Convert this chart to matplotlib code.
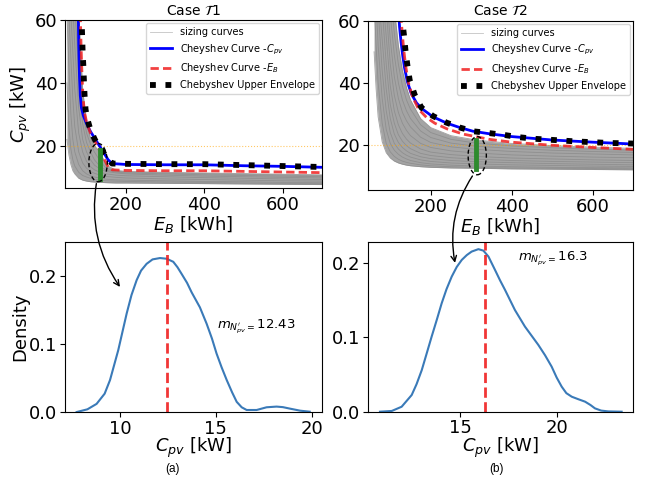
import matplotlib
matplotlib.use('Agg')
import matplotlib.pyplot as plt
from matplotlib.patches import Ellipse, ConnectionPatch

# ---- case T1 : sizing curves (E_B grid, C_pv per curve) ----
eb1 = [50, 55, 60, 65, 70, 80, 90, 100, 110, 120, 135, 150, 175, 200, 300, 400, 500, 600, 700]
curves1 = [
    [22, 17, 14, 12, 11, 9.6, 9.0, 8.7, 8.5, 8.4, 8.3, 8.2, 8.1, 8.1, 8.0, 7.9, 7.8, 7.7, 7.6],
    [40, 26, 19, 15.5, 13.5, 11.5, 10.5, 10.0, 9.6, 9.3, 9.0, 8.8, 8.7, 8.6, 8.4, 8.3, 8.1, 8.0, 7.9],
    [62, 45, 30, 22, 18, 14, 12, 11, 10.4, 10, 9.6, 9.3, 9.1, 9.0, 8.8, 8.6, 8.5, 8.3, 8.2],
    [70, 62, 48, 35, 26, 18, 14.5, 12.8, 11.8, 11.2, 10.6, 10.2, 9.9, 9.7, 9.4, 9.2, 9.0, 8.8, 8.7],
    [70, 70, 62, 50, 38, 24, 18, 15, 13.3, 12.3, 11.5, 11, 10.6, 10.4, 10.1, 9.8, 9.6, 9.4, 9.2],
    [70, 70, 70, 64, 52, 32, 22, 18, 15.5, 13.8, 12.5, 11.8, 11.3, 11, 10.6, 10.3, 10.1, 9.9, 9.7],
    [70, 70, 70, 70, 65, 42, 27, 21, 18, 15.5, 13.3, 12.2, 11.6, 11.3, 11.0, 10.7, 10.5, 10.3, 10.1],
    [70, 70, 70, 70, 70, 55, 32, 24, 20.5, 18, 15, 12.8, 11.9, 11.6, 11.3, 11.1, 10.9, 10.7, 10.5],
    [70, 70, 70, 70, 70, 62, 38, 27, 22.5, 20, 17.8, 13.8, 12.2, 11.8, 11.5, 11.3, 11.1, 10.9, 10.7],
]
blue1_x = [79, 80, 82, 84, 87, 92, 100, 110, 125, 140, 155, 165, 200, 300, 400, 500, 600, 700]
blue1_y = [62, 52, 42, 36, 32, 29.5, 27, 24.5, 21.5, 18.5, 15.5, 14.3, 14.0, 13.9, 13.9, 13.6, 13.4, 13.1]
red1_x = [84, 86, 88, 90, 92, 95, 100, 110, 125, 140, 155, 165, 200, 300, 400, 500, 600, 700]
red1_y = [62, 52, 44, 38, 34, 30.5, 27.5, 24, 20.5, 17, 13.2, 12.3, 12.1, 12.0, 12.0, 11.8, 11.6, 11.4]
env1_x = [87, 88.5, 90, 92, 93.5, 95, 97.5, 102, 110, 121.6, 133.6, 147, 165, 200, 300, 400, 500, 600, 700]
env1_y = [62, 56, 50, 45, 40, 36, 31.5, 28.5, 25, 21.8, 19.7, 17.0, 14.3, 14.2, 14.1, 14.1, 13.8, 13.5, 13.2]

# ---- case T2 ----
eb2 = [60, 65, 70, 80, 90, 100, 110, 120, 130, 140, 150, 175, 200, 250, 312, 400, 500, 600, 700]
curves2 = [
    [50, 38, 29, 21, 17.5, 15.8, 14.8, 14.2, 13.8, 13.5, 13.3, 13.0, 12.8, 12.6, 12.5, 12.3, 12.2, 12.1, 12.0],
    [66, 52, 40, 27, 20.5, 17.8, 16.3, 15.4, 14.8, 14.4, 14.1, 13.6, 13.3, 13.0, 12.8, 12.6, 12.5, 12.4, 12.3],
    [70, 66, 52, 35, 25, 20.5, 18.3, 17, 16.1, 15.5, 15.0, 14.3, 13.9, 13.5, 13.2, 13.0, 12.8, 12.7, 12.6],
    [70, 70, 64, 44, 31, 24, 20.5, 18.7, 17.5, 16.7, 16.1, 15.2, 14.7, 14.2, 13.9, 13.6, 13.4, 13.2, 13.1],
    [70, 70, 70, 54, 38, 28.5, 23.5, 20.8, 19.2, 18.1, 17.3, 16.2, 15.6, 15.0, 14.6, 14.3, 14.0, 13.8, 13.6],
    [70, 70, 70, 64, 46, 33, 27, 23.3, 21.2, 19.8, 18.8, 17.3, 16.6, 15.9, 15.4, 15.0, 14.7, 14.5, 14.3],
    [70, 70, 70, 70, 55, 39, 31, 26.5, 23.7, 21.9, 20.6, 18.7, 17.7, 16.9, 16.3, 15.8, 15.5, 15.2, 15.0],
    [70, 70, 70, 70, 64, 46, 36, 30.5, 27, 24.7, 23, 20.5, 19.2, 18.1, 17.4, 16.8, 16.4, 16.1, 15.9],
    [70, 70, 70, 70, 70, 54, 42, 35, 30.5, 27.8, 25.8, 22.5, 20.8, 19.4, 18.6, 17.9, 17.4, 17.1, 16.8],
    [70, 70, 70, 70, 70, 62, 49, 40, 34.5, 31, 28.5, 24.5, 22.4, 20.6, 19.6, 18.9, 18.3, 17.9, 17.6],
    [70, 70, 70, 70, 70, 70, 56, 46, 39, 34.5, 31.5, 26.5, 24, 21.8, 20.6, 19.7, 19.1, 18.6, 18.3],
    [70, 70, 70, 70, 70, 70, 64, 52, 44, 38.5, 34.5, 28.5, 25.6, 23, 21.6, 20.5, 19.8, 19.3, 18.9],
]
blue2_x = [121, 123, 126, 130, 135, 142, 152, 165, 180, 205, 240, 272, 305, 345, 400, 500, 600, 700]
blue2_y = [62, 58, 54, 49.5, 45, 40.5, 36.5, 33.5, 31.5, 29.1, 27.0, 25.6, 24.4, 23.6, 22.7, 21.6, 20.9, 20.3]
red2_x = [126, 129, 133, 138, 145, 155, 170, 190, 210, 240, 280, 345, 400, 500, 600, 700]
red2_y = [62, 57, 51, 45.5, 40, 35.5, 31.5, 28.8, 27, 25.2, 23.5, 21.8, 20.9, 19.9, 19.2, 18.6]
env2_x = [128, 130, 134, 137.5, 142.5, 148, 160.5, 177, 205.7, 238.7, 272, 305, 345.7, 382.7, 418,
          455, 492, 528, 563.7, 600.7, 637.8, 674.8, 700]
env2_y = [62, 59.7, 55.2, 50.6, 45.5, 40.9, 36.1, 32.0, 29.3, 27.2, 25.6, 24.4, 23.8, 23.2, 22.5,
          22.0, 21.7, 21.4, 21.1, 20.9, 20.65, 20.55, 20.45]

# selected E_B and C_pv range of the sampled slice (green bar)
slice1 = (134.5, 9.4, 18.6)
slice2 = (312.8, 12.3, 21.6)

# ---- KDE of C_pv at the selected slice ----
kde1_x = [7.74, 8.3, 8.78, 9.2, 9.48, 9.91, 10.35, 10.6, 10.87, 11.1, 11.39, 11.7, 12.09, 12.43,
          12.78, 13.0, 13.22, 13.5, 13.74, 14.17, 14.52, 14.8, 15.04, 15.3, 15.57, 15.85, 16.09,
          16.35, 16.61, 17.13, 17.65, 18.17, 18.5, 18.87, 19.4, 19.9]
kde1_y = [0.0, 0.004, 0.012, 0.027, 0.047, 0.091, 0.145, 0.172, 0.194, 0.208, 0.218, 0.2245, 0.2265,
          0.2255, 0.221, 0.213, 0.203, 0.19, 0.176, 0.154, 0.130, 0.108, 0.086, 0.066, 0.047, 0.029,
          0.015, 0.007, 0.003, 0.003, 0.007, 0.008, 0.0072, 0.005, 0.002, 0.0005]
kde2_x = [10.86, 11.47, 11.98, 12.5, 12.75, 13.02, 13.27, 13.53, 13.8, 14.05, 14.3, 14.57, 14.83,
          15.09, 15.35, 15.6, 15.95, 16.21, 16.47, 16.81, 17.07, 17.33, 17.84, 18.36, 19.05, 19.4,
          19.74, 20.0, 20.26, 20.5, 20.78, 21.1, 21.47, 21.75, 21.98, 22.3, 22.67, 23.36]
kde2_y = [0.0, 0.001, 0.0067, 0.0225, 0.037, 0.056, 0.078, 0.101, 0.124, 0.146, 0.165, 0.182, 0.195,
          0.2045, 0.211, 0.2157, 0.219, 0.217, 0.209, 0.191, 0.177, 0.164, 0.137, 0.1146, 0.090,
          0.076, 0.0607, 0.046, 0.0337, 0.025, 0.0202, 0.017, 0.0135, 0.009, 0.0045, 0.0015, 0.0004, 0.0]
mean1 = 12.43
mean2 = 16.3

fig = plt.figure(figsize=(6.51, 4.78), dpi=100)
ax_tl = fig.add_axes([0.0998, 0.606, 0.3948, 0.352])
ax_tr = fig.add_axes([0.5653, 0.6025, 0.4071, 0.3542])
ax_bl = fig.add_axes([0.0998, 0.138, 0.3948, 0.3556])
ax_br = fig.add_axes([0.5653, 0.1387, 0.4071, 0.3556])

tops = [
    (ax_tl, eb1, curves1, blue1_x, blue1_y, red1_x, red1_y, env1_x, env1_y, slice1,
     (129.5, 14.6, 47, 12.2), r'Case $\mathcal{T}1$', (6.4, 60)),
    (ax_tr, eb2, curves2, blue2_x, blue2_y, red2_x, red2_y, env2_x, env2_y, slice2,
     (315, 16.55, 45, 12.3), r'Case $\mathcal{T}2$', (5.5, 60)),
]
for (ax, eb, curves, bx, by, rx, ry, ex, ey, sl, ell, title, ylim) in tops:
    ax.fill_between(eb, curves[0], curves[-1], color='#a4a4a4', lw=0)
    for i, c in enumerate(curves):
        ax.plot(eb, c, color='#8a8a8a', lw=0.6, alpha=0.8,
                label='sizing curves' if i == 0 else None)
    ax.axhline(20, color='orange', ls=':', lw=0.8, alpha=0.6)
    ax.plot(bx, by, color='blue', lw=2, label=r'Cheyshev Curve -$C_{pv}$')
    ax.plot(rx, ry, color='#f02020', lw=2, alpha=0.85, dashes=(3, 1.5),
            label=r'Cheyshev Curve -$E_B$')
    ax.plot(ex, ey, color='black', ls=':', lw=4.2, label='Chebyshev Upper Envelope')
    ax.plot([sl[0], sl[0]], [sl[1], sl[2]], color='#2e8b2e', lw=3.5, zorder=6)
    ax.add_patch(Ellipse((ell[0], ell[1]), ell[2], ell[3], fill=False, ec='black',
                         lw=1, ls=(0, (3, 2)), zorder=7))
    ax.set_xlim(45, 700)
    ax.set_ylim(*ylim)
    ax.set_xticks([200, 400, 600])
    ax.set_yticks([20, 40, 60])
    ax.tick_params(labelsize=13, pad=2)
    ax.set_xlabel(r'$E_B$ [kWh]', fontsize=13, labelpad=0)
    ax.set_title(title, fontsize=10, pad=4)
    leg = ax.legend(loc='upper right', fontsize=7.0, handlelength=2.3, borderaxespad=0.35)
    leg.legend_handles[0].set_alpha(0.5)
ax_tl.set_ylabel(r'$C_{pv}$ [kW]', fontsize=13, labelpad=1)

bottoms = [
    (ax_bl, kde1_x, kde1_y, mean1, (15.06, 0.125), r'$m_{N^{\prime}_{pv}=}$12.43', (0, 0.25), [10, 15, 20]),
    (ax_br, kde2_x, kde2_y, mean2, (17.98, 0.206), r'$m_{N^{\prime}_{pv}=}$16.3', (0, 0.229), [15, 20]),
]
for (ax, kx, ky, m, tpos, txt, ylim, xt) in bottoms:
    ax.plot(kx, ky, color='#3a7ab8', lw=1.5)
    ax.axvline(m, color='#f02020', ls='--', lw=2, alpha=0.9)
    ax.text(tpos[0], tpos[1], txt, fontsize=9.5, va='center')
    ax.set_ylim(*ylim)
    ax.set_xticks(xt)
    ax.set_yticks([0.0, 0.1, 0.2])
    ax.tick_params(labelsize=13, pad=2)
    ax.set_xlabel(r'$C_{pv}$ [kW]', fontsize=13, labelpad=-1)
ax_bl.set_xlim(7.13, 20.54)
ax_br.set_xlim(10.24, 23.95)
ax_bl.set_ylabel('Density', fontsize=13, labelpad=0)

fig.text(172 / 651, 1 - 469 / 478, '(a)', family='Liberation Sans', fontsize=8.5, ha='center', va='center')
fig.text(497 / 651, 1 - 469 / 478, '(b)', family='Liberation Sans', fontsize=8.5, ha='center', va='center')

arrows = [(ax_tl, (125, 7.9), ax_bl, (10.0, 0.184)),
          (ax_tr, (303, 10.0), ax_br, (14.74, 0.2005))]
for a_top, pa, a_bot, pb in arrows:
    con = ConnectionPatch(xyA=pa, coordsA=a_top.transData, xyB=pb, coordsB=a_bot.transData,
                          arrowstyle='->', connectionstyle='arc3,rad=0.2', lw=1, color='black')
    fig.add_artist(con)

fig.savefig('out.png', dpi=100)
